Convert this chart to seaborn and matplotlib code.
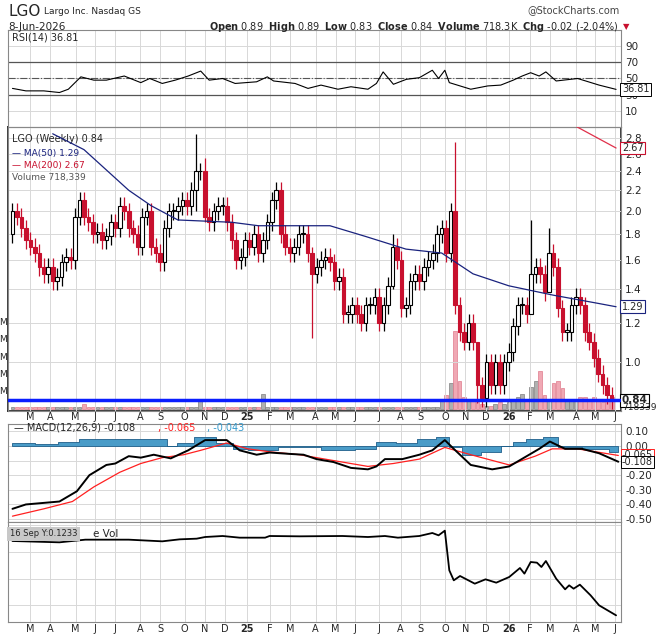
"""Weekly LGO chart in StockCharts style: RSI, candles + MAs + volume, MACD, relative volume."""
import matplotlib
matplotlib.use("Agg")
import matplotlib.pyplot as plt
import numpy as np
import seaborn as sns

sns.set_theme(style="white")
plt.rcParams["font.family"] = ["DejaVu Sans"]

# ---- data (x = week index, 0 = early Feb 2024) ----
closes = [
    2.0, 1.95, 1.85, 1.75, 1.7, 1.65, 1.55, 1.5, 1.55, 1.45,
    1.48, 1.58, 1.62, 1.6, 1.95, 2.1, 1.95, 1.9, 1.8, 1.82,
    1.75, 1.78, 1.9, 1.85, 2.05, 2.0, 1.85, 1.8, 1.7, 1.95,
    2.0, 1.7, 1.65, 1.58, 1.85, 2.0, 2.0, 2.05, 2.1, 2.05,
    2.2, 2.4, 2.4, 1.95, 1.9, 2.0, 2.05, 2.05, 1.9, 1.75,
    1.6, 1.62, 1.75, 1.7, 1.8, 1.65, 1.75, 1.9, 2.1, 2.2,
    1.8, 1.7, 1.65, 1.7, 1.8, 1.8, 1.65, 1.5, 1.55, 1.6,
    1.62, 1.58, 1.45, 1.48, 1.25, 1.25, 1.3, 1.25, 1.2, 1.3,
    1.3, 1.35, 1.2, 1.3, 1.42, 1.7, 1.6, 1.28, 1.3, 1.45,
    1.5, 1.45, 1.55, 1.6, 1.65, 1.8, 1.85, 1.65, 2.0, 1.3,
    1.15, 1.1, 1.2, 1.1, 0.9, 0.85, 1.0, 0.9, 1.0, 0.9,
    1.0, 1.05, 1.18, 1.3, 1.3, 1.25, 1.5, 1.55, 1.5, 1.38,
    1.65, 1.55, 1.28, 1.15, 1.15, 1.3, 1.35, 1.3, 1.15, 1.1,
    1.02, 0.95, 0.9, 0.86, 0.84,
]
first_open = 1.8
# notable wicks: (week, high, low)
wick_spikes = [(41, 2.85, 2.0), (43, 2.55, 1.9), (67, 1.7, 1.12), (99, 2.75, 1.25),
               (104, 1.1, 0.83), (116, 1.92, 1.3), (120, 1.85, 1.5), (85, 1.8, 1.4)]
volume_m = [0.15] * 16 + [0.3] + [0.15] * 25 + [0.5] + [0.15] * 13 + [0.9] + [0.15] * 39 + [
    0.5, 0.8, 1.5, 4.5, 1.6, 0.7, 0.6, 0.5, 0.4, 0.3, 0.2, 0.2, 0.3, 0.4, 0.3, 0.4,
    0.6, 0.7, 0.9, 0.5, 1.3, 1.6, 2.2, 0.8, 0.6, 1.5, 1.6, 1.2, 0.6, 0.5, 0.6, 0.7,
    0.7, 0.6, 0.7, 0.5, 0.4, 0.5, 0.7]

ma50_week = [9, 16, 26, 31, 37, 49, 55, 64, 71, 79, 88, 96, 103, 111, 121, 131, 135]
ma50_val = [2.85, 2.65, 2.2, 2.05, 1.92, 1.9, 1.87, 1.87, 1.87, 1.78, 1.68, 1.65, 1.5, 1.42, 1.36, 1.31, 1.29]
ma200_week = [126, 135]
ma200_val = [2.95, 2.67]

rsi_week = [0, 3, 7, 10.5, 12.5, 15.3, 18.2, 21, 25, 28.7, 30.7, 33.5, 36.4, 39.3, 42.1, 44,
            47, 49.8, 54.6, 57, 58.4, 63.2, 66.1, 69, 72.8, 75.7, 79.5, 81.4, 82.9, 85.2, 88.1,
            91, 93.9, 95.3, 96.7, 97.7, 102.5, 106.3, 109.2, 112, 114, 115.9, 117.8, 119.3,
            121.6, 126.4, 131.2, 135]
rsi_val = [38, 35, 35, 33, 37, 52, 48, 48, 53, 45, 50, 44, 48, 53, 59, 48,
           50, 44, 46, 52, 47, 44, 38, 42, 37, 40, 37, 44, 58, 43, 49,
           51, 60, 50, 60, 45, 37, 41, 42, 48, 53, 57, 53, 58,
           47, 50, 42, 36.81]

macd_week = [0, 3, 10.5, 14.4, 17.2, 21, 23, 26, 28.7, 31.6, 35.4, 39.3, 43.1, 47.9, 50.8,
             54.6, 57.5, 62.3, 65.1, 68, 71.8, 75.7, 79.5, 81.4, 83.3, 87.2, 91, 93.9, 96.7,
             98.7, 102.5, 107.3, 111.1, 115, 117.8, 120.2, 123.6, 127.4, 131.2, 135.5]
macd_val = [-0.43, -0.40, -0.38, -0.31, -0.20, -0.13, -0.12, -0.07, -0.08, -0.06, -0.085,
            -0.03, 0.04, 0.04, -0.03, -0.06, -0.045, -0.055, -0.06, -0.09, -0.11, -0.15,
            -0.16, -0.14, -0.09, -0.09, -0.06, -0.03, 0.04, -0.02, -0.13, -0.16, -0.14,
            -0.07, -0.02, 0.03, -0.02, -0.02, -0.05, -0.108]
signal_week = [0, 7, 13.4, 18.2, 24, 28.7, 33.5, 38.3, 42.1, 47.9, 52.7, 57.5, 64.2, 71.8,
               79.5, 85.2, 91, 96.7, 102.5, 111.1, 116.9, 120.7, 126.4, 135.5]
signal_val = [-0.48, -0.43, -0.38, -0.28, -0.18, -0.12, -0.08, -0.06, -0.03, 0.02, -0.02,
              -0.04, -0.06, -0.10, -0.14, -0.12, -0.09, -0.01, -0.06, -0.13, -0.07, -0.02,
              -0.02, -0.065]
hist_week = [0, 3, 7, 13.4, 16.3, 33.5, 35.4, 38.3, 43.1, 47.9, 50.8, 54.6, 64.2, 73.8,
             79.5, 83.3, 88.1, 92.9, 96.7, 98.7, 102.5, 107.3, 111.1, 113, 116.9, 120.2,
             123.6, 131.2, 135.5]
hist_val = [0.02, 0.02, 0.01, 0.03, 0.05, 0.05, 0.0, 0.02, 0.06, 0.02, -0.02, -0.03, -0.01,
            -0.03, -0.02, 0.03, 0.02, 0.05, 0.06, -0.01, -0.06, -0.04, 0.0, 0.03, 0.05, 0.06,
            -0.01, -0.02, -0.043]

relvol_week = [0, 10.5, 16.3, 26, 33.5, 37.4, 41.2, 43.1, 47, 50.8, 56.5, 57.5, 64.2, 73.8,
               79.5, 83.3, 86.2, 91, 93.9, 95.3, 96.7, 97.7, 98.7, 100.1, 103.4, 105.8, 108.2,
               111.1, 113.5, 114.5, 115.9, 117.3, 118.3, 119.3, 121.6, 123.6, 124.5, 125.5,
               126.9, 129.3, 131.2, 135]
relvol_val = [2.73, 2.69, 2.77, 2.77, 2.72, 2.78, 2.80, 2.85, 2.88, 2.83, 2.83, 2.88, 2.87,
              2.88, 2.85, 2.88, 2.83, 2.88, 2.97, 2.90, 3.04, 1.85, 1.55, 1.68, 1.45, 1.58,
              1.48, 1.65, 1.92, 1.75, 2.10, 2.08, 1.95, 2.13, 1.60, 1.28, 1.40, 1.30, 1.42,
              1.10, 0.80, 0.50]

month_week = [4.0, 8.4, 14.1, 18.4, 23, 28.5, 33, 38.5, 43.1, 47.6, 52.5, 57.5, 62.1, 67.8,
              72.3, 76.6, 82, 86.8, 91.2, 96.7, 101.3, 105.8, 111.1, 115.7, 120.2, 126, 130.3, 134.8]
month_lbl = ["M", "A", "M", "J", "J", "A", "S", "O", "N", "D", "25", "F", "M", "A", "M", "J",
             "J", "A", "S", "O", "N", "D", "26", "F", "M", "A", "M", "J"]

# ---- figure ----
W, H = 671, 636
fig = plt.figure(figsize=(W / 100, H / 100), dpi=100)
fig.patch.set_facecolor("white")
L, R = 8 / W, 613 / W
XL = (-1.0, 136.1)


def panel(top, bot):
    ax = fig.add_axes([L, 1 - bot / H, R, (bot - top) / H])
    ax.set_xlim(*XL)
    ax.yaxis.tick_right()
    ax.tick_params(axis="y", labelsize=7.5, length=0, pad=3)
    ax.set_xticks(month_week)
    ax.set_xticklabels([])
    ax.tick_params(axis="x", length=0)
    ax.grid(True, axis="x", color="#d8d8d8", lw=0.7)
    for s in ax.spines.values():
        s.set_color("#888888")
        s.set_linewidth(0.8)
    return ax


grid_c = "#d8d8d8"

# header
fig.text(8 / W, 1 - 12 / H, "LGO", fontsize=11, va="center")
fig.text(44 / W, 1 - 12 / H, "Largo Inc. Nasdaq GS", fontsize=6.5, va="center")
fig.text(8 / W, 1 - 27 / H, "8-Jun-2026", fontsize=7.5, va="center")
fig.text(620 / W, 1 - 10 / H, "@StockCharts.com", fontsize=7, ha="right", va="center", color="#444")
fig.text(618 / W, 1 - 27 / H,
         r"$\bf{Open}$ 0.89  $\bf{High}$ 0.89  $\bf{Low}$ 0.83  $\bf{Close}$ 0.84  "
         r"$\bf{Volume}$ 718.3K  $\bf{Chg}$ -0.02 (-2.04%)", fontsize=7, ha="right", va="center")
fig.text(623 / W, 1 - 27 / H, "▼", fontsize=6, color="#c8102e", va="center")

# RSI
ax_r = panel(30, 127)
ax_r.set_ylim(-8.8, 108.8)
ax_r.set_yticks([10, 30, 50, 70, 90])
ax_r.grid(True, axis="y", color=grid_c, lw=0.7)
ax_r.axhline(70, color="#555", lw=0.9)
ax_r.axhline(30, color="#555", lw=0.9)
ax_r.axhline(50, color="#555", lw=0.8, ls="-.")
ax_r.plot(rsi_week, rsi_val, color="black", lw=0.8)
ax_r.text(0.0, 96, "RSI(14) 36.81", fontsize=7)
ax_r.annotate("36.81", (136.3, 36.81), xycoords="data", fontsize=7, va="center",
              annotation_clip=False, bbox=dict(boxstyle="square,pad=0.15", fc="white", ec="black", lw=0.7))

# price
ax_p = panel(127, 411)
ax_v = ax_p.twinx()
ax_p.yaxis.tick_right()
ax_p.set_yscale("log")
ax_p.set_ylim(0.80, 2.94)
ticks = [1.0, 1.2, 1.4, 1.6, 1.8, 2.0, 2.2, 2.4, 2.6, 2.8]
ax_p.set_yticks(ticks)
ax_p.set_yticklabels([f"{t:.1f}" for t in ticks])
ax_p.minorticks_off()
ax_p.tick_params(axis="y", labelsize=7.5, length=0, pad=3, labelleft=False, labelright=True)
ax_p.grid(True, axis="y", color=grid_c, lw=0.7)

ax_v.set_ylim(-0.1, 16.2)
ax_v.set_yticks([])
ax_v.set_xlim(*XL)
wk = np.arange(len(closes))
opens = [first_open] + closes[:-1]
up = [c >= o for o, c in zip(opens, closes)]
ax_v.bar(wk, volume_m, width=0.85, color=["#b0b0b0" if u else "#f0a8b4" for u in up],
         edgecolor=["#808080" if u else "#e07a8c" for u in up], lw=0.5)
for lv in [1, 2, 3, 4, 5]:
    fig.text(7 / W, 1 - (409 - lv * 17.3) / H, "M", fontsize=6.5, ha="right", va="center")
ax_v.set_zorder(ax_p.get_zorder() - 1)
ax_p.patch.set_visible(False)

highs = [max(o, c) * 1.04 for o, c in zip(opens, closes)]
lows = [min(o, c) * 0.96 for o, c in zip(opens, closes)]
for i, h, lo in wick_spikes:
    highs[i], lows[i] = h, lo
ax_p.vlines(wk, lows, highs, color=["black" if u else "#c8102e" for u in up], lw=0.9, zorder=2)
bot = [min(o, c) for o, c in zip(opens, closes)]
hgt = [max(abs(c - o), 0.008) for o, c in zip(opens, closes)]
ax_p.bar(wk, hgt, bottom=bot, width=0.8, color=["white" if u else "#c8102e" for u in up],
         edgecolor=["black" if u else "#c8102e" for u in up], lw=0.8, zorder=3)
ax_p.plot(ma50_week, ma50_val, color="#1a237e", lw=0.9, zorder=4)
ax_p.plot(ma200_week, ma200_val, color="#e0304a", lw=0.9, zorder=4)
ax_p.axhline(0.84, color="#0a1eff", lw=2.5, zorder=5)
ax_p.text(0, 2.74, "LGO (Weekly) 0.84", fontsize=7)
ax_p.text(0, 2.58, "— MA(50) 1.29", fontsize=6.5, color="#1a237e")
ax_p.text(0, 2.44, "— MA(200) 2.67", fontsize=6.5, color="#c8102e")
ax_p.text(0, 2.31, "Volume 718,339", fontsize=6.5, color="#555")
for val, ec, bold in [(2.67, "#c8102e", False), (1.29, "#1a237e", False), (0.84, "black", True)]:
    ax_p.annotate(f"{val:.2f}", (136.3, val), fontsize=7.5 if bold else 7, va="center",
                  fontweight="bold" if bold else "normal", annotation_clip=False,
                  bbox=dict(boxstyle="square,pad=0.15", fc="white", ec=ec, lw=0.8))
ax_p.annotate("718339", (136.3, 0.812), fontsize=6.5, va="center", annotation_clip=False)

# month labels under price panel and at the bottom
for w, lb in zip(month_week, month_lbl):
    bold = lb in ("25", "26")
    xf = L + R * (w - XL[0]) / (XL[1] - XL[0])
    for yy in (417, 629):
        fig.text(xf, 1 - yy / H, lb, fontsize=7, ha="center", va="center",
                 fontweight="bold" if bold else "normal")

# MACD
ax_m = panel(424, 522)
ax_m.set_ylim(-0.52, 0.15)
mt = [0.10, 0.0, -0.10, -0.20, -0.30, -0.40, -0.50]
ax_m.set_yticks(mt)
ax_m.set_yticklabels([f"{t:.2f}" for t in mt])
ax_m.grid(True, axis="y", color=grid_c, lw=0.7)
ax_m.fill_between(hist_week, hist_val, 0, step="mid", color="#4a9cc8", ec="#1f5f8a", lw=0.6)
ax_m.plot(signal_week, signal_val, color="#ff2020", lw=0.9)
ax_m.plot(macd_week, macd_val, color="black", lw=1.4)
ax_m.text(0.3, 0.105, "— MACD(12,26,9) -0.108", fontsize=7)
ax_m.text(32.5, 0.105, ", -0.065", fontsize=7, color="#ff2020")
ax_m.text(43.5, 0.105, ", -0.043", fontsize=7, color="#3399cc")
for val, ec in [(-0.065, "#ff2020"), (-0.108, "black")]:
    ax_m.annotate(f"{val:.3f}", (136.3, val), fontsize=7, va="center", annotation_clip=False,
                  bbox=dict(boxstyle="square,pad=0.1", fc="white", ec=ec, lw=0.7))

# relative volume line
ax_b = panel(522, 622)
ax_b.set_ylim(0.3, 3.3)
ax_b.set_yticks([0.8, 1.6, 2.4, 3.2])
ax_b.set_yticklabels([])
ax_b.grid(True, axis="y", color=grid_c, lw=0.7)
ax_b.plot(relvol_week, relvol_val, color="black", lw=1.3)
ax_b.text(-0.6, 2.95, "16 Sep Y:0.1233", fontsize=6, va="center",
          bbox=dict(boxstyle="square,pad=0.3", fc="#c8c8c8", ec="none"))
ax_b.text(18.0, 2.95, "e Vol", fontsize=7.5, va="center")

fig.savefig("out.png", dpi=100)
